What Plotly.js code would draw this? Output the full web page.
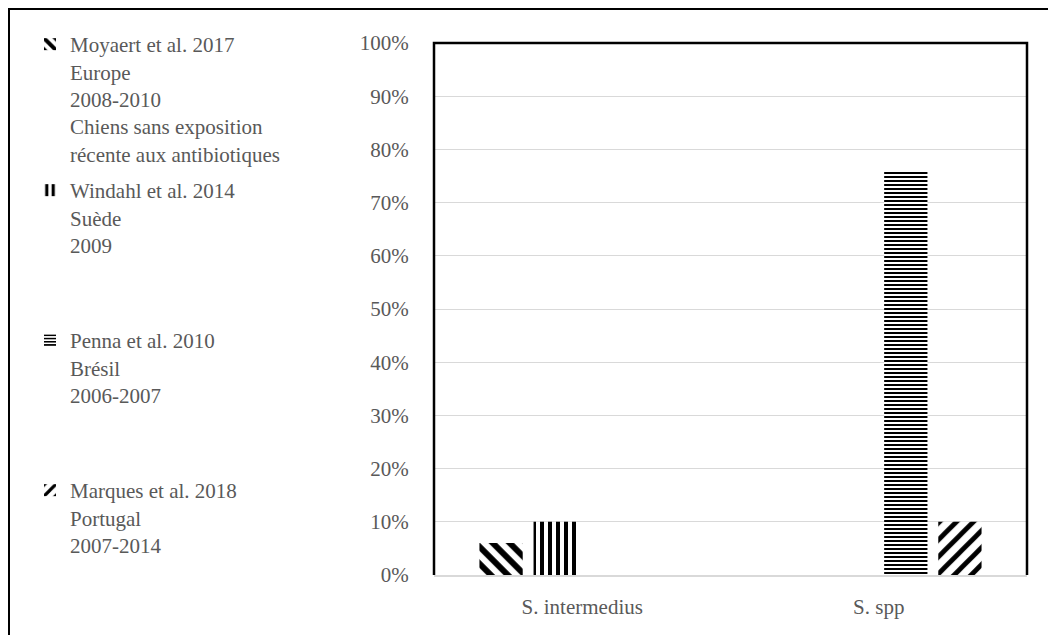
<!DOCTYPE html>
<html>
<head>
<meta charset="utf-8">
<script src="https://cdn.plot.ly/plotly-3.0.1.min.js"></script>
<style>
  html, body { margin: 0; padding: 0; background: #fff; }
  #chart { width: 1048px; height: 635px; position: relative; }
  #frame { position: absolute; left: 8px; top: 8px; width: 1100px; height: 700px;
           border-left: 2px solid #000; border-top: 2px solid #000; pointer-events: none; }
</style>
</head>
<body>
<div id="chart"></div>
<div id="frame"></div>
<script>
const categories = ["S. intermedius", "S. spp"];
const seriesNames = [
  "Moyaert et al. 2017<br>Europe<br>2008-2010<br>Chiens sans exposition<br>récente aux antibiotiques",
  "Windahl et al. 2014<br>Suède<br>2009",
  "Penna et al. 2010<br>Brésil<br>2006-2007",
  "Marques et al. 2018<br>Portugal<br>2007-2014"
];
const moyaert = [0.06, 0];
const windahl = [0.10, 0];
const penna = [0, 0.76];
const marques = [0, 0.10];

const seriesValues = [moyaert, windahl, penna, marques];
const patterns = [
  {shape: "\\", size: 12, solidity: 0.5},
  {shape: "|", size: 8, solidity: 0.5},
  {shape: "-", size: 4, solidity: 0.5},
  {shape: "/", size: 12, solidity: 0.4}
];
const legendIds = ["legend", "legend2", "legend3", "legend4"];

const font = {family: "Liberation Serif", size: 21, color: "#595959"};

const traces = seriesValues.map((vals, i) => ({
  type: "bar",
  x: categories,
  y: vals,
  name: seriesNames[i],
  legend: legendIds[i],
  marker: {
    color: "#000",
    line: {width: 0},
    pattern: Object.assign({fgcolor: "#000", bgcolor: "#fff", fillmode: "replace"}, patterns[i])
  },
  hoverinfo: "skip"
}));

// plot box: left 434, right 1027, top 43, bottom 575
const L = 434, R = 1027, T = 43, B = 575;
const W = 1048, H = 635;
const px2x = p => (p - L) / (R - L);
const px2y = p => (B - p) / (B - T);

function legendAt(ytop) {
  return {
    x: px2x(30), xanchor: "left",
    y: px2y(ytop), yanchor: "top",
    font: font, bgcolor: "rgba(0,0,0,0)", borderwidth: 0,
    valign: "top", itemwidth: 30, itemclick: false, itemdoubleclick: false
  };
}

const layout = {
  width: W, height: H,
  margin: {l: L, r: W - R, t: T, b: H - B, pad: 0},
  paper_bgcolor: "#fff", plot_bgcolor: "#fff",
  font: font,
  barmode: "group",
  bargap: 0.27,
  bargroupgap: 0.2,
  xaxis: {
    type: "category",
    showgrid: false,
    showline: true, linecolor: "#d9d9d9", linewidth: 2,
    ticks: "outside", ticklen: 12, tickcolor: "rgba(0,0,0,0)",
    tickfont: font, zeroline: false, fixedrange: true
  },
  yaxis: {
    range: [0, 1],
    dtick: 0.1,
    tickformat: ".0%",
    showgrid: true, gridcolor: "#d9d9d9", gridwidth: 1,
    zeroline: false, showline: false,
    ticks: "outside", ticklen: 20, tickcolor: "rgba(0,0,0,0)",
    tickfont: font, fixedrange: true
  },
  shapes: [{
    type: "path", xref: "paper", yref: "paper",
    path: "M0,0 L0,1 L1,1 L1,0",
    line: {color: "#000", width: 2.5},
    fillcolor: "rgba(0,0,0,0)"
  }],
  legend: legendAt(24),
  legend2: legendAt(170),
  legend3: legendAt(320),
  legend4: legendAt(470),
  showlegend: true
};

Plotly.newPlot("chart", traces, layout, {displayModeBar: false, staticPlot: true});
</script>
</body>
</html>
